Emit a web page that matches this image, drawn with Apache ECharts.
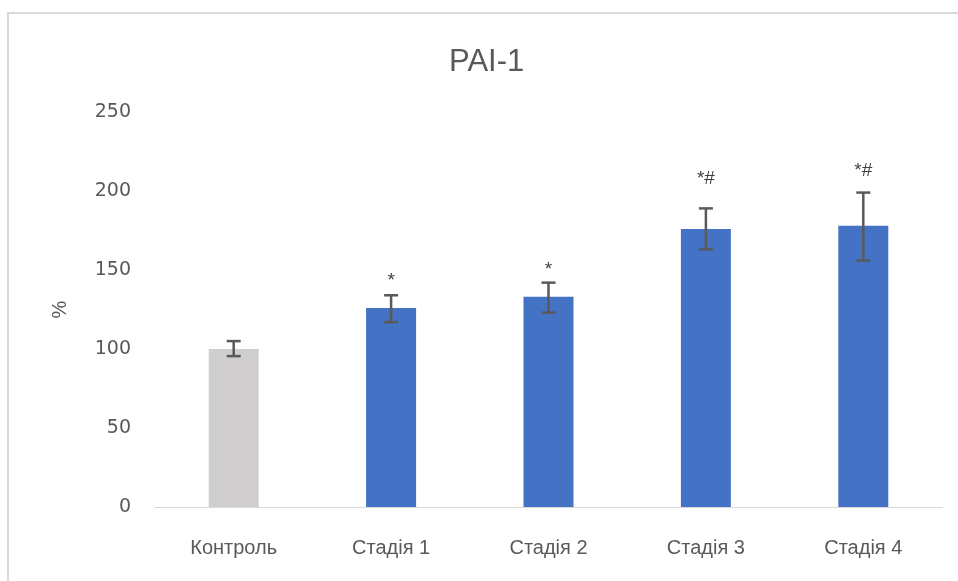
<!DOCTYPE html>
<html><head><meta charset="utf-8">
<script src="https://cdn.jsdelivr.net/npm/echarts@6/dist/echarts.min.js"></script>
<style>html,body{margin:0;padding:0;background:#fff}#c{width:958px;height:581px}</style>
</head><body><div id="c"></div>
<script>
const categories = ['Контроль', 'Стадія 1', 'Стадія 2', 'Стадія 3', 'Стадія 4'];
const values = [100, 126, 133, 176, 178];
const errLow = [95.5, 117, 123, 163, 156];
const errHigh = [105, 134, 142, 189, 199];
const marks = ['', '*', '*', '*#', '*#'];
const markLevel = [0, 143, 150, 208, 213];
const barColors = ['#d0cece', '#4472c4', '#4472c4', '#4472c4', '#4472c4'];
const yTicks = [0, 50, 100, 150, 200, 250];

const font = 'Liberation Sans, Open Sans, sans-serif';
const numFont = 'DejaVu Sans, sans-serif';
const chart = echarts.init(document.getElementById('c'), null, {renderer: 'canvas'});
chart.setOption({
  animation: false,
  graphic: [
    {type: 'rect', shape: {x: 8, y: 13, width: 1000, height: 700}, style: {fill: 'none', stroke: '#d9d9d9', lineWidth: 2}, silent: true},
    {type: 'text', left: 449, top: 47, style: {text: 'PAI-1', fontFamily: font, fontSize: 31, fill: '#595959'}, silent: true}
  ],
  grid: {left: 155, right: 16, top: 112, bottom: 74},
  xAxis: {type: 'category', data: categories,
    axisLine: {lineStyle: {color: '#d9d9d9', width: 1}}, axisTick: {show: false},
    axisLabel: {fontFamily: font, fontSize: 20, color: '#595959', margin: 31}},
  yAxis: {type: 'value', min: yTicks[0], max: yTicks[yTicks.length - 1], interval: 50,
    name: '%', nameLocation: 'middle', nameGap: 85, nameRotate: 90,
    nameTextStyle: {fontFamily: font, fontSize: 20, color: '#595959'},
    axisLine: {show: false}, axisTick: {show: false}, splitLine: {show: false},
    axisLabel: {fontFamily: numFont, fontSize: 19, color: '#595959', margin: 24}},
  series: [
    {type: 'bar', barWidth: 50,
     data: values.map((v, i) => ({value: v, itemStyle: {color: barColors[i]}}))},
    {type: 'custom', z: 10,
     data: categories.map((c, i) => [i, errLow[i], errHigh[i], markLevel[i]]),
     renderItem: function (params, api) {
       const x = api.coord([api.value(0), 0])[0];
       const lo = api.coord([api.value(0), api.value(1)])[1];
       const hi = api.coord([api.value(0), api.value(2)])[1];
       const my = api.coord([api.value(0), api.value(3)])[1];
       const hw = 7;
       const st = {stroke: '#595959', lineWidth: 2.5};
       const children = [
         {type: 'line', shape: {x1: x, y1: lo, x2: x, y2: hi}, style: st},
         {type: 'line', shape: {x1: x - hw, y1: lo, x2: x + hw, y2: lo}, style: st},
         {type: 'line', shape: {x1: x - hw, y1: hi, x2: x + hw, y2: hi}, style: st}
       ];
       const m = marks[params.dataIndex];
       if (m) children.push({type: 'text', style: {text: m, x: x, y: my, align: 'center', verticalAlign: 'middle', fontFamily: font, fontSize: 19, fill: '#404040'}});
       return {type: 'group', children: children};
     }}
  ]
});
</script></body></html>
